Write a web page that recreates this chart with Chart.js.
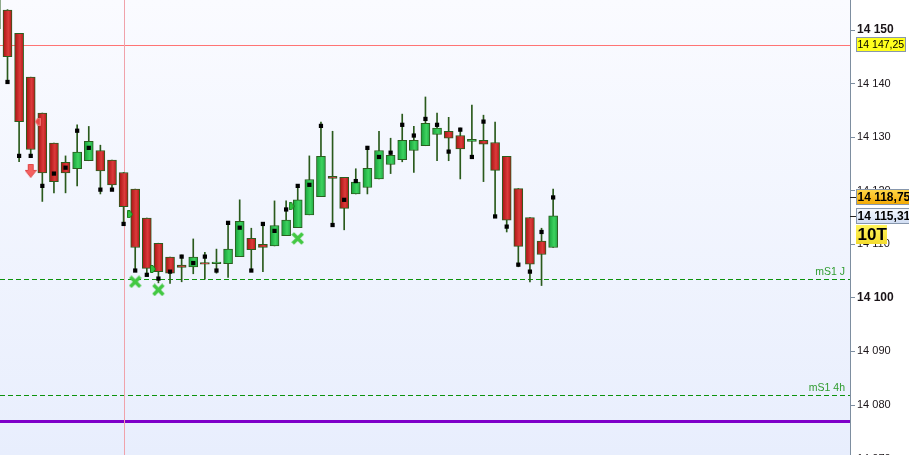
<!DOCTYPE html>
<html>
<head>
<meta charset="utf-8">
<script src="https://cdn.jsdelivr.net/npm/chart.js@4.4.1/dist/chart.umd.min.js"></script>
<style>
html, body { margin: 0; padding: 0; background: #fff; }
#wrap { width: 909px; height: 455px; }
</style>
</head>
<body>
<div id="wrap"><canvas id="chart" width="909" height="455"></canvas></div>
<script>
"use strict";
// candle data, index of first candle is firstIndex
const firstIndex = -1;
const opens = [14150.2, 14153.7, 14149.4, 14141.2, 14134.5, 14128.9, 14125.3, 14124.1, 14125.6, 14127.5,
    14125.7, 14123.4, 14120.3, 14114.9, 14110.2, 14107.6, 14106.1, 14105.8, 14106.6, 14106.4,
    14106.4, 14107.7, 14111.1, 14110.0, 14109.7, 14111.6, 14113.1, 14115.5, 14118.9, 14122.7,
    14122.5, 14119.4, 14120.6, 14122.2, 14124.9, 14125.8, 14127.5, 14128.4, 14130.5, 14131.1,
    14130.3, 14129.2, 14129.4, 14129.0, 14126.4, 14120.4, 14115.0, 14110.6, 14109.4];
const highs = [14159.0, 14153.8, 14149.4, 14141.2, 14134.5, 14128.9, 14126.5, 14132.3, 14132.0, 14128.5,
    14125.7, 14123.4, 14120.3, 14114.9, 14110.2, 14107.6, 14108.0, 14111.0, 14108.5, 14109.1,
    14114.0, 14118.3, 14113.0, 14113.8, 14118.1, 14118.1, 14120.9, 14126.5, 14132.8, 14131.1,
    14122.5, 14124.1, 14128.3, 14131.1, 14129.8, 14134.3, 14132.0, 14137.5, 14134.5, 14133.7,
    14131.7, 14136.0, 14134.1, 14132.8, 14126.4, 14120.4, 14115.0, 14113.0, 14120.3];
const lows = [14150.2, 14140.3, 14125.4, 14126.3, 14118.0, 14119.6, 14119.6, 14120.9, 14125.6, 14119.4,
    14120.5, 14114.0, 14105.1, 14104.6, 14102.8, 14102.7, 14103.0, 14104.5, 14103.5, 14104.6,
    14103.8, 14107.7, 14105.1, 14104.9, 14109.7, 14111.6, 14113.1, 14115.5, 14118.9, 14113.6,
    14112.7, 14119.4, 14119.4, 14122.2, 14123.2, 14125.4, 14123.4, 14128.4, 14125.6, 14125.6,
    14122.2, 14126.3, 14121.7, 14115.2, 14112.3, 14105.8, 14103.0, 14102.3, 14109.4];
const closes = [14158.0, 14145.0, 14132.9, 14127.7, 14123.3, 14121.7, 14123.3, 14127.2, 14129.2, 14123.7,
    14121.1, 14117.0, 14109.4, 14105.5, 14104.9, 14104.6, 14105.7, 14107.6, 14106.3, 14106.7,
    14109.1, 14114.3, 14109.0, 14109.4, 14113.5, 14114.5, 14118.3, 14122.1, 14126.4, 14122.3,
    14116.7, 14121.6, 14124.2, 14127.5, 14126.6, 14129.4, 14129.4, 14132.6, 14131.7, 14129.8,
    14127.8, 14129.6, 14128.7, 14123.8, 14114.5, 14109.6, 14106.3, 14108.1, 14115.31];
// black square indicator
const indicator = [null, 14140.3, 14126.5, 14126.5, 14120.9, 14123.2, 14124.3, 14131.2, 14128.0, 14120.2,
    14120.2, 14113.8, 14105.1, 14104.3, 14103.6, 14104.9, 14107.7, 14106.5, 14107.7, 14105.1,
    14114.0, 14113.1, 14105.1, 14113.8, 14112.5, 14116.5, 14120.9, 14121.1, 14132.1, 14113.6,
    14118.3, 14121.8, 14128.0, 14126.3, 14127.1, 14132.3, 14130.3, 14133.4, 14132.3, 14127.3,
    14131.4, 14126.3, 14132.9, 14115.2, 14113.3, 14106.2, 14104.9, 14112.3, 14118.75];

const crossSignals = [{ x: 11, y: 14103.0 }, { x: 13, y: 14101.5 }, { x: 25, y: 14111.1 }];
const greenFlags = [{ x: 10.55, y: 14115.6 }, { x: 12.53, y: 14105.4 }, { x: 24.48, y: 14117.1 }];
const redFlags = [{ x: 2.6, y: 14132.9 }];
const downArrows = [{ x: 2, y: 14123.7 }];

const yTicks = [14070, 14080, 14090, 14100, 14110, 14120, 14130, 14140, 14150];
const refPrice = 14147.25;
const signalPrice = 14118.75;
const lastPrice = 14115.31;
const timeframeLabel = '10T';
const supportLevels = [{ value: 14103.5, label: 'mS1 J' }, { value: 14081.9, label: 'mS1 4h' }];
const purpleLevel = 14077.0;
const cursorIndex = 10;

const yMin = 14070.67;
const yMax = 14155.6;
const xMin = -0.646;
const xMax = 72.57;

function fmt(v) {
    const parts = v.toFixed(2).split('.');
    const intPart = parts[0].replace(/\B(?=(\d{3})+(?!\d))/g, ' ');
    return intPart + ',' + parts[1];
}

function makeIcon(w, h, draw) {
    const c = document.createElement('canvas');
    c.width = w;
    c.height = h;
    draw(c.getContext('2d'));
    return c;
}

const arrowIcon = makeIcon(12, 14, g => {
    g.beginPath();
    g.moveTo(3.5, 0.5); g.lineTo(8.5, 0.5); g.lineTo(8.5, 6.5); g.lineTo(11.5, 6.5);
    g.lineTo(6, 13.5); g.lineTo(0.5, 6.5); g.lineTo(3.5, 6.5); g.closePath();
    g.fillStyle = '#f46060';
    g.fill();
    g.strokeStyle = '#e04848';
    g.stroke();
});
const crossIcon = makeIcon(13, 13, g => {
    g.strokeStyle = '#42c842';
    g.lineWidth = 3.6;
    g.lineCap = 'square';
    g.beginPath();
    g.moveTo(2.8, 2.8); g.lineTo(10.2, 10.2);
    g.moveTo(10.2, 2.8); g.lineTo(2.8, 10.2);
    g.stroke();
});
const greenFlagIcon = makeIcon(6, 8, g => {
    g.beginPath();
    g.moveTo(0.5, 0.5); g.lineTo(3, 0.5); g.lineTo(5.5, 4); g.lineTo(3, 7.5); g.lineTo(0.5, 7.5); g.closePath();
    g.fillStyle = '#30c040';
    g.fill();
    g.strokeStyle = '#1c7a1c';
    g.stroke();
});
const redFlagIcon = makeIcon(6, 8, g => {
    g.beginPath();
    g.moveTo(5.5, 0.5); g.lineTo(3, 0.5); g.lineTo(0.5, 4); g.lineTo(3, 7.5); g.lineTo(5.5, 7.5); g.closePath();
    g.fillStyle = '#e84848';
    g.fill();
    g.strokeStyle = '#f07070';
    g.stroke();
});

const bodyData = opens.map((o, k) => ({ x: firstIndex + k, y: [o, closes[k]] }));
const wickData = lows.map((l, k) => ({ x: firstIndex + k, y: [l, highs[k]] }));
const indicatorData = indicator
    .map((v, k) => (v === null ? null : { x: firstIndex + k, y: v }))
    .filter(p => p !== null);

function bodyFill(ctx) {
    const k = ctx.dataIndex;
    const up = k !== undefined && closes[k] >= opens[k];
    const flat = up ? '#2cc050' : '#c82626';
    if (ctx.type !== 'data') return flat;
    const chart = ctx.chart;
    const xs = chart.scales && chart.scales.x;
    const px = xs ? xs.getPixelForValue(firstIndex + k) : NaN;
    if (!isFinite(px)) return flat;
    const g = chart.ctx.createLinearGradient(px - 4.5, 0, px + 4.5, 0);
    if (up) {
        g.addColorStop(0, '#16a03a');
        g.addColorStop(0.6, '#3ed35f');
        g.addColorStop(1, '#1fa844');
    } else {
        g.addColorStop(0, '#a81212');
        g.addColorStop(0.6, '#dc3b3b');
        g.addColorStop(1, '#b01616');
    }
    return g;
}

function hline(chart, value, color, width, dash) {
    const { ctx, chartArea: a, scales: { y } } = chart;
    let py = y.getPixelForValue(value);
    if (width % 2 === 1) py = Math.round(py) + 0.5;
    ctx.save();
    ctx.strokeStyle = color;
    ctx.lineWidth = width;
    ctx.setLineDash(dash);
    ctx.beginPath();
    ctx.moveTo(a.left, py);
    ctx.lineTo(a.right, py);
    ctx.stroke();
    ctx.restore();
    return py;
}

function priceBox(ctx, left, top, w, h, fill, border, text, font, color) {
    ctx.save();
    ctx.fillStyle = fill;
    ctx.fillRect(left, top, w, h);
    if (border) {
        ctx.strokeStyle = border;
        ctx.lineWidth = 1;
        ctx.strokeRect(left + 0.5, top + 0.5, w - 1, h - 1);
    }
    ctx.fillStyle = color;
    ctx.font = font;
    ctx.textBaseline = 'middle';
    ctx.textAlign = 'left';
    ctx.fillText(text, left + 1.5, top + h / 2 + 0.5);
    ctx.restore();
}

const decorPlugin = {
    id: 'decor',
    beforeDraw(chart) {
        const { ctx, chartArea: a, width, height } = chart;
        ctx.save();
        ctx.fillStyle = '#ffffff';
        ctx.fillRect(0, 0, width, height);
        const g = ctx.createLinearGradient(0, a.top, 0, a.bottom);
        g.addColorStop(0, '#fafbff');
        g.addColorStop(1, '#e8eefd');
        ctx.fillStyle = g;
        ctx.fillRect(a.left, a.top, a.right - a.left, a.bottom - a.top);
        ctx.restore();
    },
    beforeDatasetsDraw(chart) {
        const { ctx, chartArea: a, scales: { x } } = chart;
        hline(chart, refPrice, '#ff7474', 1, []);
        supportLevels.forEach(s => {
            const py = hline(chart, s.value, '#0c920c', 1, [5, 3]);
            ctx.save();
            ctx.fillStyle = '#2f9c2f';
            ctx.font = '10.5px "Liberation Sans", Arial, sans-serif';
            ctx.textAlign = 'right';
            ctx.textBaseline = 'bottom';
            ctx.fillText(s.label, a.right - 5, py - 2);
            ctx.restore();
        });
        hline(chart, purpleLevel, '#7e00c9', 3, []);
        const cx = Math.round(x.getPixelForValue(cursorIndex)) + 0.5;
        ctx.save();
        ctx.strokeStyle = '#f0a2aa';
        ctx.lineWidth = 1;
        ctx.beginPath();
        ctx.moveTo(cx, a.top);
        ctx.lineTo(cx, a.bottom);
        ctx.stroke();
        ctx.restore();
    },
    afterDraw(chart) {
        const { ctx, chartArea: a, scales: { y } } = chart;
        const left = a.right + 6;
        const boxFont = 'bold 12px "Liberation Sans", Arial, sans-serif';

        const y1 = y.getPixelForValue(refPrice);
        priceBox(ctx, left, Math.round(y1 - 8), 50, 15, '#ffff1e', '#8797ad', fmt(refPrice),
            '10.5px "Liberation Sans", Arial, sans-serif', '#000');

        const y2 = y.getPixelForValue(signalPrice);
        const og = ctx.createLinearGradient(0, y2 - 8, 0, y2 + 8);
        og.addColorStop(0, '#ffd84a');
        og.addColorStop(1, '#f2a600');
        priceBox(ctx, left, Math.round(y2 - 8), 60, 16, og, '#8797ad', fmt(signalPrice), boxFont, '#000');

        const y3 = y.getPixelForValue(lastPrice);
        const bg = ctx.createLinearGradient(0, y3 - 8, 0, y3 + 8);
        bg.addColorStop(0, '#f6f9ff');
        bg.addColorStop(1, '#cfdcf2');
        priceBox(ctx, left, Math.round(y3 - 8), 60, 16, bg, '#8797ad', fmt(lastPrice), boxFont, '#000');

        const tTop = Math.round(y3 - 8) + 17;
        const yg = ctx.createLinearGradient(0, tTop, 0, tTop + 19);
        yg.addColorStop(0, '#fff45a');
        yg.addColorStop(1, '#f4dc30');
        priceBox(ctx, left, tTop, 31, 19, yg, null, timeframeLabel,
            'bold 17px "Liberation Sans", Arial, sans-serif', '#000');

        // price pointers on the axis
        ctx.save();
        ctx.strokeStyle = '#222';
        ctx.lineWidth = 1;
        [y2, y3].forEach(py => {
            const p = Math.round(py) + 0.5;
            ctx.beginPath();
            ctx.moveTo(a.right, p);
            ctx.lineTo(left, p);
            ctx.stroke();
        });
        ctx.restore();
    }
};

const canvas = document.getElementById('chart');
const ctx = canvas.getContext('2d');

new Chart(ctx, {
    type: 'bar',
    data: {
        datasets: [
            {
                type: 'scatter',
                data: downArrows,
                pointStyle: arrowIcon,
                order: 0
            },
            {
                type: 'scatter',
                data: crossSignals,
                pointStyle: crossIcon,
                order: 0
            },
            {
                type: 'scatter',
                data: greenFlags,
                pointStyle: greenFlagIcon,
                order: 0
            },
            {
                type: 'scatter',
                data: redFlags,
                pointStyle: redFlagIcon,
                order: 0
            },
            {
                type: 'scatter',
                data: indicatorData,
                pointStyle: 'rect',
                pointRadius: 3,
                backgroundColor: '#000',
                borderWidth: 0,
                order: 1
            },
            {
                data: bodyData,
                backgroundColor: bodyFill,
                borderColor: '#2a5e1e',
                borderWidth: 1,
                borderSkipped: false,
                barThickness: 9,
                grouped: false,
                order: 2
            },
            {
                data: wickData,
                backgroundColor: '#2a5a1c',
                borderWidth: 0,
                barThickness: 1,
                grouped: false,
                order: 3
            }
        ]
    },
    options: {
        responsive: false,
        animation: false,
        events: [],
        layout: { padding: 0, autoPadding: false },
        plugins: {
            legend: { display: false },
            tooltip: { enabled: false }
        },
        scales: {
            x: {
                type: 'linear',
                display: false,
                min: xMin,
                max: xMax,
                offset: false
            },
            y: {
                position: 'right',
                min: yMin,
                max: yMax,
                bounds: 'data',
                afterBuildTicks: scale => {
                    scale.ticks = yTicks.map(v => ({ value: v }));
                },
                afterFit: scale => {
                    scale.width = 59;
                    scale.paddingTop = 0;
                    scale.paddingBottom = 0;
                },
                grid: {
                    drawOnChartArea: false,
                    tickLength: 5,
                    tickColor: '#7d8ea0'
                },
                border: { color: '#7d8ea0' },
                ticks: {
                    autoSkip: false,
                    padding: 2,
                    color: '#1a1418',
                    font: c => (c.tick && c.tick.value % 50 === 0)
                        ? { family: '"Liberation Sans", Arial, sans-serif', size: 12, weight: 'bold' }
                        : { family: '"Liberation Sans", Arial, sans-serif', size: 11, weight: 'normal' },
                    callback: v => String(v).replace(/\B(?=(\d{3})+(?!\d))/g, ' ')
                }
            }
        }
    },
    plugins: [decorPlugin]
});
</script>
</body>
</html>
